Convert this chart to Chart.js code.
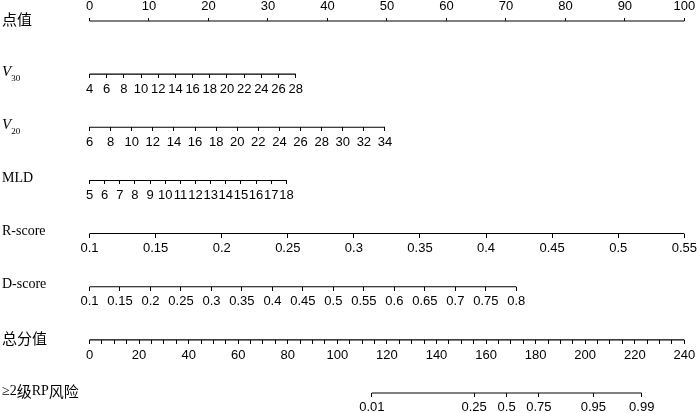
<!DOCTYPE html>
<html>
<head>
<meta charset="utf-8">
<script src="https://cdn.jsdelivr.net/npm/chart.js@4.4.1/dist/chart.umd.min.js"></script>
<style>
  html, body { margin: 0; padding: 0; background: #fff; }
  #wrap { width: 700px; height: 413px; }
</style>
</head>
<body>
<div id="wrap"><canvas id="nomo"></canvas></div>
<script>
// 列线图各行名称
const rowNames = ['点值', 'V30', 'V20', 'MLD', 'R-score', 'D-score', '总分值', '≥2级RP风险'];

// 各轴刻度
const pointTicks = [0, 10, 20, 30, 40, 50, 60, 70, 80, 90, 100];
const v30Ticks = [4, 6, 8, 10, 12, 14, 16, 18, 20, 22, 24, 26, 28];
const v20Ticks = [6, 8, 10, 12, 14, 16, 18, 20, 22, 24, 26, 28, 30, 32, 34];
const mldTicks = [5, 6, 7, 8, 9, 10, 11, 12, 13, 14, 15, 16, 17, 18];
const rTicks = [0.1, 0.15, 0.2, 0.25, 0.3, 0.35, 0.4, 0.45, 0.5, 0.55];
const dTicks = [0.1, 0.15, 0.2, 0.25, 0.3, 0.35, 0.4, 0.45, 0.5, 0.55, 0.6, 0.65, 0.7, 0.75, 0.8];
const totalTicks = [0, 20, 40, 60, 80, 100, 120, 140, 160, 180, 200, 220, 240];

// 各变量最大值对应的点值
const v30MaxPts = 34.67;
const v20MaxPts = 49.67;
const mldMaxPts = 33.1;
const rMaxPts = 100;
const dMaxPts = 71.75;

// 风险轴：刻度标签及其在总分值轴上的位置
const riskLabels = ['0.01', '0.25', '0.5', '0.75', '0.95', '0.99'];
const riskTotal = [113.9, 155.2, 168.3, 181.3, 203.3, 222.8];

const tickFont = { family: '"Liberation Sans", Arial, sans-serif', size: 13 };
const ink = '#000';

function rowAxis(row, ticks, maxPts, pad) {
  const lo = ticks[0], hi = ticks[ticks.length - 1];
  return {
    type: 'linear',
    axis: 'x',
    position: { y: row },
    min: lo,
    max: lo + (hi - lo) * 100 / maxPts,
    afterBuildTicks: s => { s.ticks = ticks.map(v => ({ value: v })); },
    border: { display: false },
    grid: { drawOnChartArea: false, drawTicks: true, tickLength: 4, color: ink, lineWidth: 1 },
    ticks: {
      autoSkip: false, maxRotation: 0, minRotation: 0, padding: pad,
      color: '#000', font: tickFont,
      callback: (v, i) => String(ticks[i])
    }
  };
}

function rowLine(axisId, row, lo, hi) {
  return {
    xAxisID: axisId,
    yAxisID: 'y',
    data: [{ x: lo, y: row }, { x: hi, y: row }],
    showLine: true,
    borderColor: ink,
    borderWidth: 1.1,
    pointRadius: 0,
    clip: false
  };
}

// 行名称（含斜体 V 与下标）
function drawRowName(ctx, name, x, y) {
  const serif = '"Liberation Serif", "Times New Roman", serif';
  const cjk = '"Noto Sans CJK SC", sans-serif';
  const m = name.match(/^V(\d+)$/);
  if (m) {
    ctx.font = 'italic 15px ' + serif;
    ctx.fillText('V', x, y);
    x += ctx.measureText('V').width;
    ctx.font = '9px ' + serif;
    ctx.fillText(m[1], x, y + 6);
    return;
  }
  const runs = name.match(/[\u4e00-\u9fff]+|[^\u4e00-\u9fff]+/g);
  runs.forEach(r => {
    ctx.font = /[\u4e00-\u9fff]/.test(r) ? '15px ' + cjk : '14px ' + serif;
    ctx.fillText(r, x, y);
    x += ctx.measureText(r).width;
  });
}

const rowNamePlugin = {
  id: 'rowNames',
  afterDraw(chart) {
    const { ctx, scales } = chart;
    ctx.save();
    ctx.fillStyle = '#000';
    ctx.textBaseline = 'middle';
    ctx.textAlign = 'left';
    rowNames.forEach((name, i) => {
      drawRowName(ctx, name, 2, scales.y.getPixelForValue(i) - 2);
    });
    ctx.restore();
  }
};

new Chart(document.getElementById('nomo'), {
  type: 'scatter',
  data: {
    datasets: [
      rowLine('x', 0, pointTicks[0], pointTicks[pointTicks.length - 1]),
      rowLine('v30', 1, v30Ticks[0], v30Ticks[v30Ticks.length - 1]),
      rowLine('v20', 2, v20Ticks[0], v20Ticks[v20Ticks.length - 1]),
      rowLine('mld', 3, mldTicks[0], mldTicks[mldTicks.length - 1]),
      rowLine('rs', 4, rTicks[0], rTicks[rTicks.length - 1]),
      rowLine('ds', 5, dTicks[0], dTicks[dTicks.length - 1]),
      rowLine('total', 6, totalTicks[0], totalTicks[totalTicks.length - 1]),
      rowLine('risk', 7, riskTotal[0], riskTotal[riskTotal.length - 1])
    ]
  },
  options: {
    responsive: true,
    maintainAspectRatio: false,
    animation: false,
    layout: { padding: { left: 89.5, right: 10.5, top: 0, bottom: 20 } },
    plugins: { legend: { display: false }, tooltip: { enabled: false } },
    scales: {
      y: { type: 'linear', min: 0, max: 7, reverse: true, display: false },
      x: {
        type: 'linear',
        position: 'top',
        min: 0,
        max: 100,
        afterBuildTicks: s => { s.ticks = pointTicks.map(v => ({ value: v })); },
        afterFit: s => { s.height = 21; },
        border: { display: false },
        grid: { drawOnChartArea: false, drawTicks: true, tickLength: 3, color: ink, lineWidth: 1 },
        ticks: {
          autoSkip: false, maxRotation: 0, minRotation: 0, padding: 4,
          color: '#000', font: tickFont,
          callback: (v, i) => String(pointTicks[i])
        }
      },
      v30: rowAxis(1, v30Ticks, v30MaxPts, 3),
      v20: rowAxis(2, v20Ticks, v20MaxPts, 3),
      mld: rowAxis(3, mldTicks, mldMaxPts, 3),
      rs: rowAxis(4, rTicks, rMaxPts, 3),
      ds: rowAxis(5, dTicks, dMaxPts, 3),
      total: {
        type: 'linear',
        axis: 'x',
        position: { y: 6 },
        min: 0,
        max: 240,
        afterBuildTicks: s => {
          const t = [];
          for (let v = 0; v <= 240; v += 5) t.push({ value: v });
          s.ticks = t;
        },
        border: { display: false },
        grid: { drawOnChartArea: false, drawTicks: true, tickLength: 4, color: ink, lineWidth: 1 },
        ticks: {
          autoSkip: false, maxRotation: 0, minRotation: 0, padding: 4,
          color: '#000', font: tickFont,
          callback: v => totalTicks.includes(v) ? String(v) : ''
        }
      },
      risk: {
        type: 'linear',
        axis: 'x',
        position: { y: 7 },
        min: 0,
        max: 240,
        afterBuildTicks: s => { s.ticks = riskTotal.map(v => ({ value: v })); },
        border: { display: false },
        grid: { drawOnChartArea: false, drawTicks: true, tickLength: 4, color: ink, lineWidth: 1 },
        ticks: {
          autoSkip: false, maxRotation: 0, minRotation: 0, padding: 3,
          color: '#000', font: tickFont,
          callback: (v, i) => riskLabels[i]
        }
      }
    }
  },
  plugins: [rowNamePlugin]
});
</script>
</body>
</html>
